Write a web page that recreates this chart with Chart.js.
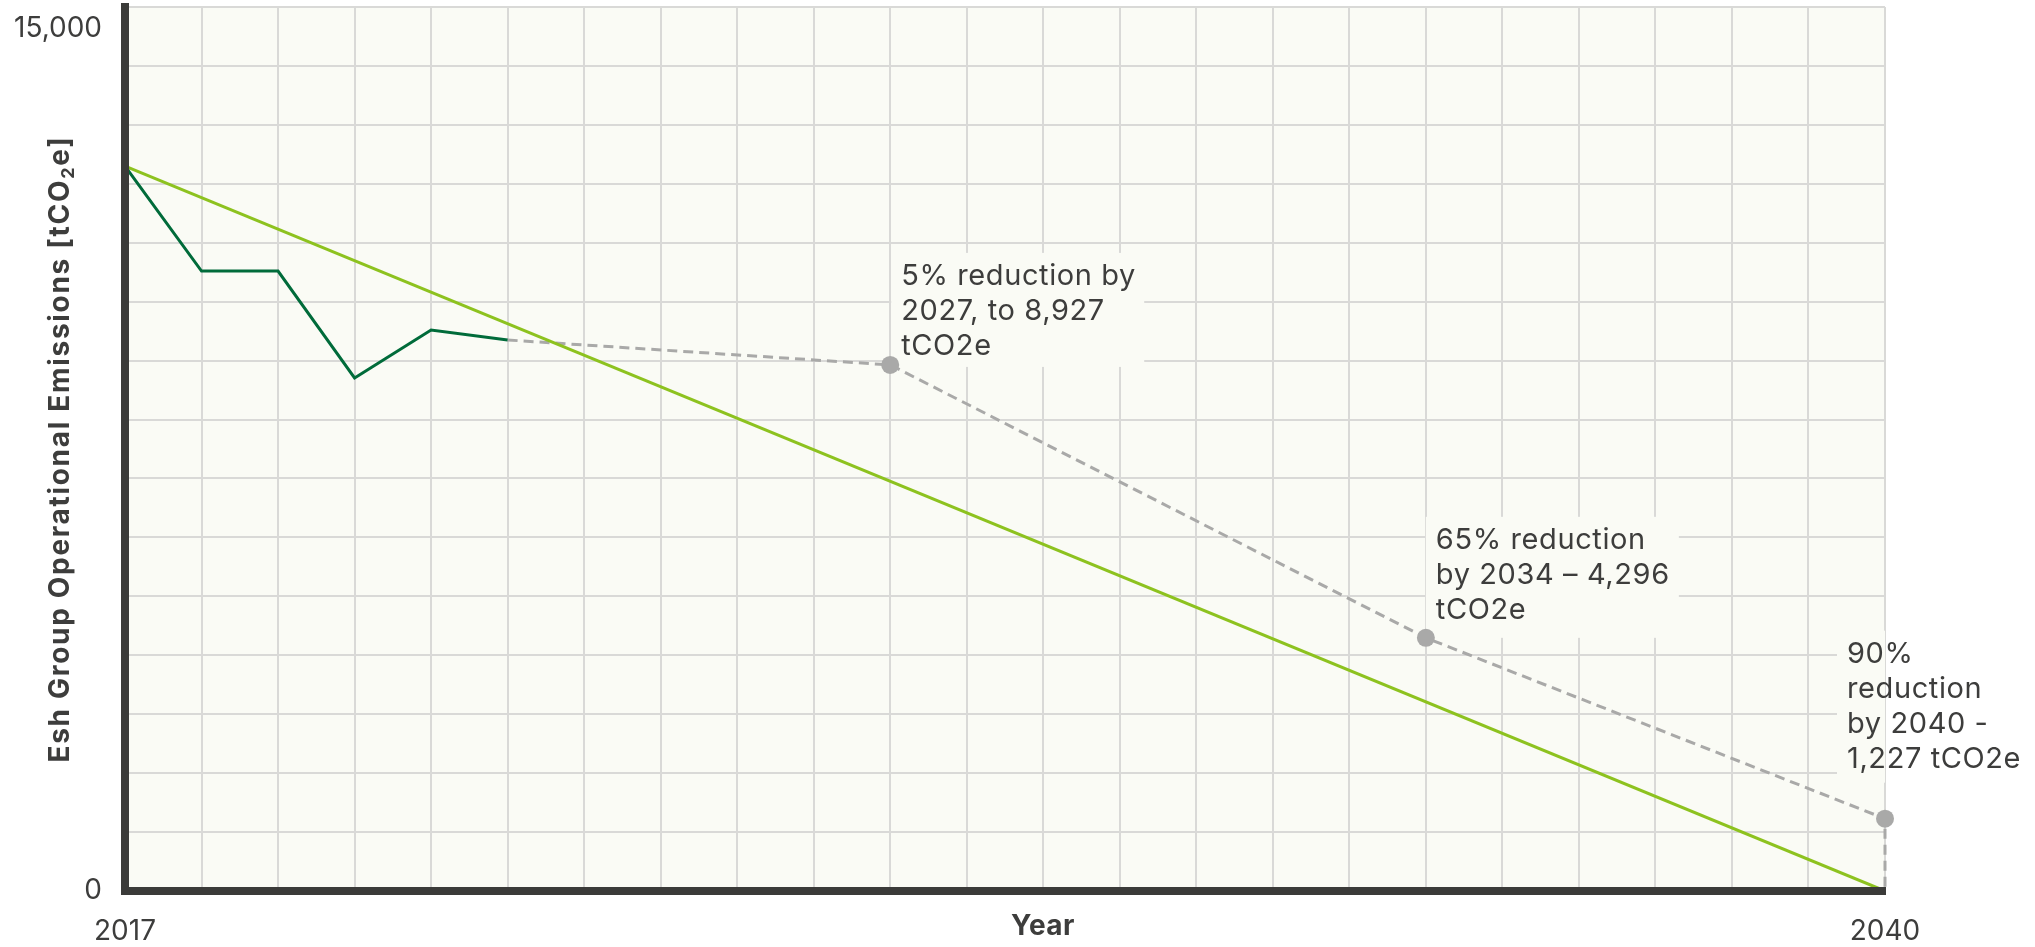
<!DOCTYPE html>
<html>
<head>
<meta charset="utf-8">
<title>Esh Group Operational Emissions</title>
<style>
  html, body { margin: 0; padding: 0; background: #ffffff; }
  #wrap { position: relative; width: 2035px; height: 947px; }
</style>
<script src="https://cdn.jsdelivr.net/npm/chart.js@4.4.1/dist/chart.umd.min.js"></script>
</head>
<body>
<div id="wrap"><canvas id="emissions" width="2035" height="947"></canvas></div>
<script>
// ---- Data -----------------------------------------------------------------
const years = ['2017', '2018', '2019', '2020', '2021', '2022', '2023', '2024',
  '2025', '2026', '2027', '2028', '2029', '2030', '2031', '2032', '2033',
  '2034', '2035', '2036', '2037', '2038', '2039', '2040'];

// Reported operational emissions, tCO2e
const actualYears = ['2017', '2018', '2019', '2020', '2021', '2022'];
const actualValues = [12300, 10520, 10520, 8705, 9520, 9350];

// Straight-line pathway to zero
const pathwayYears = ['2017', '2040'];
const pathwayValues = [12300, 0];

// Reduction milestones (dashed), from the latest reported year
const milestoneYears = ['2022', '2027', '2034', '2040', '2040'];
const milestoneValues = [9350, 8927, 4296, 1227, 0];
const milestoneMarked = [false, true, true, true, false];

// Axis labels
const yTickValues = [0, 15000];
const yTickLabels = ['0', '15,000'];
const xTickLabels = ['2017', '2040'];
const xTitle = 'Year';
const yTitleParts = ['Esh Group Operational Emissions [tCO', '2', 'e]'];

// Milestone notes
const noteYears = ['2027', '2034', '2040'];
const noteValues = [8927, 4296, 1227];
const noteLines = [
  ['5% reduction by', '2027, to 8,927', 'tCO2e'],
  ['65% reduction', 'by 2034 \u2013 4,296', 'tCO2e'],
  ['90%', 'reduction', 'by 2040 -', '1,227 tCO2e']
];

// ---- Styling ----------------------------------------------------------------
const FONT = 'Inter, "Open Sans", "DejaVu Sans", sans-serif';
const TEXT = '#3d3d3c';
const PLOT_BG = '#fafbf5';
const GRID = '#d9d9d7';
const AXIS = '#3b3b39';

const toPoints = (xs, ys) => xs.map((x, i) => ({ x: x, y: ys[i] }));

// Cream plot background
const plotBackground = {
  id: 'plotBackground',
  beforeDraw(chart) {
    const { ctx, chartArea: a } = chart;
    ctx.save();
    ctx.fillStyle = PLOT_BG;
    ctx.fillRect(a.left, a.top, a.right - a.left, a.bottom - a.top);
    ctx.restore();
  }
};

// Note boxes placed against each milestone marker
const noteLayout = [
  { dx: 1, dy: -112, w: 253, h: 114 },
  { dx: 0, dy: -121, w: 253, h: 121 },
  { dx: -48, dy: -188, w: 200, h: 152 }
];
const milestoneNotes = {
  id: 'milestoneNotes',
  beforeDatasetsDraw(chart) {
    const { ctx, chartArea: a } = chart;
    const xs = chart.scales.x, ys = chart.scales.y;
    ctx.save();
    noteYears.forEach((yr, i) => {
      const px = xs.getPixelForValue(xs.getLabels().indexOf(yr));
      const py = ys.getPixelForValue(noteValues[i]);
      const L = noteLayout[i];
      const left = px + L.dx, top = py + L.dy;
      // box masks the grid behind the text (only inside the plot)
      ctx.save();
      ctx.beginPath();
      ctx.rect(a.left, a.top, a.right - a.left, a.bottom - a.top);
      ctx.clip();
      ctx.fillStyle = PLOT_BG;
      ctx.fillRect(left, top, L.w, L.h);
      ctx.restore();
      ctx.fillStyle = TEXT;
      ctx.font = '29px ' + FONT;
      ctx.letterSpacing = '0.6px';
      ctx.textAlign = 'left';
      ctx.textBaseline = 'alphabetic';
      noteLines[i].forEach((line, k) => {
        ctx.fillText(line, left + 10, top + 32 + k * 35);
      });
    });
    ctx.restore();
  }
};

// Axis titles
const axisTitles = {
  id: 'axisTitles',
  afterDraw(chart) {
    const { ctx } = chart;
    ctx.save();
    ctx.fillStyle = TEXT;
    ctx.textBaseline = 'middle';
    // x title
    ctx.font = 'bold 28px ' + FONT;
    ctx.letterSpacing = '0.5px';
    ctx.textAlign = 'center';
    ctx.fillText(xTitle, 1043, 927);
    // y title, rotated, with subscript 2
    const big = 'bold 28px ' + FONT, small = 'bold 18px ' + FONT;
    ctx.letterSpacing = '1.7px';
    ctx.font = big;
    const w0 = ctx.measureText(yTitleParts[0]).width;
    const w2 = ctx.measureText(yTitleParts[2]).width;
    ctx.font = small;
    const w1 = ctx.measureText(yTitleParts[1]).width;
    const total = w0 + w1 + w2;
    ctx.translate(61, 449);
    ctx.rotate(-Math.PI / 2);
    ctx.textAlign = 'left';
    let x = -total / 2;
    ctx.font = big;
    ctx.fillText(yTitleParts[0], x, 0);
    x += w0;
    ctx.font = small;
    ctx.fillText(yTitleParts[1], x, 8);
    x += w1;
    ctx.font = big;
    ctx.fillText(yTitleParts[2], x, 0);
    ctx.restore();
  }
};

Chart.defaults.font.family = FONT;
Chart.defaults.color = TEXT;

new Chart(document.getElementById('emissions'), {
  type: 'line',
  data: {
    labels: years,
    datasets: [
      {
        label: 'Actual',
        data: toPoints(actualYears, actualValues),
        borderColor: '#006b3a',
        borderWidth: 3,
        pointRadius: 0,
        tension: 0
      },
      {
        label: 'Pathway',
        data: toPoints(pathwayYears, pathwayValues),
        borderColor: '#8dc21f',
        borderWidth: 3,
        pointRadius: 0,
        tension: 0
      },
      {
        label: 'Milestones',
        data: toPoints(milestoneYears, milestoneValues),
        borderColor: '#a9a9a8',
        borderDash: [10, 6],
        borderWidth: 3,
        pointRadius: milestoneMarked.map(m => (m ? 9 : 0)),
        pointBackgroundColor: '#a9a9a8',
        pointBorderWidth: 0,
        tension: 0,
        clip: false
      }
    ]
  },
  options: {
    responsive: false,
    animation: false,
    events: [],
    layout: { padding: { top: 7, right: 150, left: 0, bottom: 0 } },
    plugins: { legend: { display: false }, tooltip: { enabled: false } },
    scales: {
      x: {
        type: 'category',
        offset: false,
        grid: { color: GRID, lineWidth: 2, drawTicks: false, offset: false },
        border: { color: AXIS, width: 8, z: 1 },
        ticks: {
          autoSkip: false,
          maxRotation: 0,
          padding: 24,
          font: { size: 28 },
          color: TEXT,
          callback(value, index) {
            const lbl = this.getLabelForValue(value);
            return xTickLabels.includes(lbl) ? lbl : '';
          }
        },
        afterFit(scale) {
          scale.height = 56;
          scale.paddingLeft = 0;
          scale.paddingRight = 0;
        }
      },
      y: {
        min: 0,
        max: 15000,
        grid: { color: GRID, lineWidth: 2, drawTicks: false },
        border: { color: AXIS, width: 8, z: 1 },
        ticks: {
          stepSize: 1000,
          autoSkip: false,
          padding: 23,
          font: { size: 28, lineHeight: 1.57 },
          color: TEXT,
          callback(value) {
            const k = yTickValues.indexOf(value);
            if (k < 0) return '';
            // top label sits just below the top edge
            return value === 15000 ? ['', yTickLabels[k]] : yTickLabels[k];
          }
        },
        afterFit(scale) {
          scale.width = 125;
          scale.paddingTop = 0;
          scale.paddingBottom = 0;
        }
      }
    }
  },
  plugins: [plotBackground, milestoneNotes, axisTitles]
});
</script>
</body>
</html>
